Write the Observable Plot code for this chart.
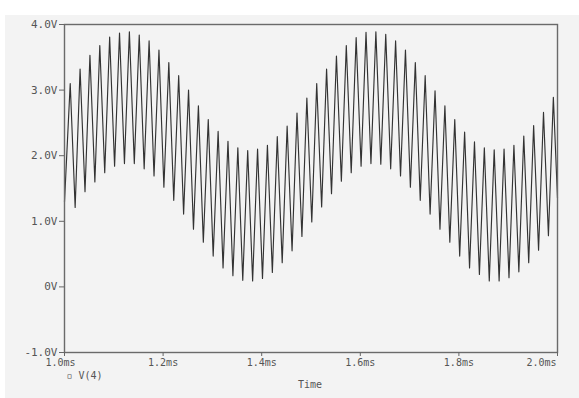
<!DOCTYPE html>
<html><head><meta charset="utf-8">
<script src="https://cdn.jsdelivr.net/npm/d3@7"></script>
<script src="https://cdn.jsdelivr.net/npm/@observablehq/plot@0.6"></script>
<style>
body{margin:0;background:#fff;}
#wrap{position:relative;width:579px;height:398px;overflow:hidden;}
#panel{position:absolute;left:5px;top:15px;right:0;bottom:0;background:#f3f3f3;}
#chart{position:absolute;left:0;top:0;}
</style>
</head><body>
<div id="wrap"><div id="panel"></div><div id="chart"></div></div>
<script>
// ---- data ----
const xTicks = [1.0, 1.2, 1.4, 1.6, 1.8, 2.0];
const xTickLabels = ["1.0ms", "1.2ms", "1.4ms", "1.6ms", "1.8ms", "2.0ms"];
const yTicks = [4, 3, 2, 1, 0, -1];
const yTickLabels = ["4.0V", "3.0V", "2.0V", "1.0V", "0V", "-1.0V"];
const seriesName = "V(4)";
const xLabel = "Time";

const startMs = 1.0, startV = 1.30;   // first sample
const endMs = 2.0, endV = 1.35;       // last sample
const firstPeakMs = 1.0116;           // time of first crest
const halfCycleMs = 0.01;             // crest-to-trough spacing of the fast ripple

// crest voltages (50 crests)
const peakV = [
  3.10, 3.32, 3.53, 3.68, 3.81, 3.87, 3.89, 3.84, 3.75, 3.61, 3.42, 3.22, 3.00,
  2.76, 2.55, 2.37, 2.22, 2.12, 2.08, 2.10, 2.16, 2.29, 2.45, 2.65, 2.88,
  3.10, 3.32, 3.52, 3.68, 3.80, 3.88, 3.89, 3.85, 3.75, 3.61, 3.42, 3.22, 2.99,
  2.76, 2.55, 2.36, 2.21, 2.12, 2.09, 2.10, 2.16, 2.30, 2.46, 2.66, 2.89
];
// trough voltages (49 troughs inside the window)
const troughV = [
  1.21, 1.45, 1.60, 1.74, 1.84, 1.88, 1.88, 1.80, 1.69, 1.52, 1.32, 1.11, 0.88,
  0.68, 0.47, 0.29, 0.17, 0.10, 0.09, 0.13, 0.22, 0.37, 0.55, 0.77, 0.99,
  1.22, 1.42, 1.61, 1.74, 1.84, 1.88, 1.87, 1.80, 1.69, 1.52, 1.32, 1.11, 0.88,
  0.68, 0.47, 0.29, 0.19, 0.09, 0.09, 0.14, 0.23, 0.37, 0.56, 0.78
];

// ---- build samples ----
const pts = [{t: startMs, v: startV}];
peakV.forEach((v, k) => {
  pts.push({t: firstPeakMs + 2 * k * halfCycleMs, v});
  if (k < troughV.length) pts.push({t: firstPeakMs + (2 * k + 1) * halfCycleMs, v: troughV[k]});
});
pts.push({t: endMs, v: endV});

const font = "DejaVu Sans Mono, monospace";
const ink = "rgb(85,85,85)";

const chart = Plot.plot({
  width: 579,
  height: 398,
  marginLeft: 64,
  marginRight: 22,
  marginTop: 24,
  marginBottom: 46,
  style: {background: "transparent", fontFamily: font, color: ink},
  x: {domain: [1.0, 2.0], axis: null},
  y: {domain: [-1, 4], axis: null},
  marks: [
    Plot.line(pts, {x: "t", y: "v", stroke: "#333", strokeWidth: 1.15}),
    Plot.frame({stroke: "#6a6a6a", strokeWidth: 1.4}),
    Plot.axisY(yTicks, {anchor: "left", text: null, tickSize: 5, stroke: "#666", label: null}),
    Plot.text(yTicks, {y: d => d, frameAnchor: "left", dx: -7, textAnchor: "end",
      text: (d, i) => yTickLabels[i], fontSize: 11, fill: ink, fontFamily: font}),
    Plot.axisX(xTicks, {anchor: "bottom", text: null, tickSize: 4, stroke: "#666", label: null}),
    Plot.text(xTicks.slice(0, 1), {x: d => d, frameAnchor: "bottom", dx: -4, dy: 6, lineAnchor: "top",
      text: (d, i) => xTickLabels[i], fontSize: 10, fill: ink, fontFamily: font}),
    Plot.text(xTicks.slice(1, 5), {x: d => d, frameAnchor: "bottom", dy: 6, lineAnchor: "top",
      text: (d, i) => xTickLabels[i + 1], fontSize: 10, fill: ink, fontFamily: font}),
    Plot.text(xTicks.slice(5), {x: d => d, frameAnchor: "bottom", dx: -1, dy: 6, lineAnchor: "top", textAnchor: "end",
      text: (d, i) => xTickLabels[i + 5], fontSize: 10, fill: ink, fontFamily: font}),
    Plot.text([xLabel], {frameAnchor: "bottom", dx: -1, dy: 28, lineAnchor: "top", text: d => d,
      fontSize: 10, fill: ink, fontFamily: font}),
    Plot.text(["\u25AB " + seriesName], {frameAnchor: "bottom-left", dx: 2, dy: 19, lineAnchor: "top", textAnchor: "start",
      text: d => d, fontSize: 10, fill: ink, fontFamily: font})
  ]
});
document.getElementById("chart").append(chart);
</script>
</body></html>
